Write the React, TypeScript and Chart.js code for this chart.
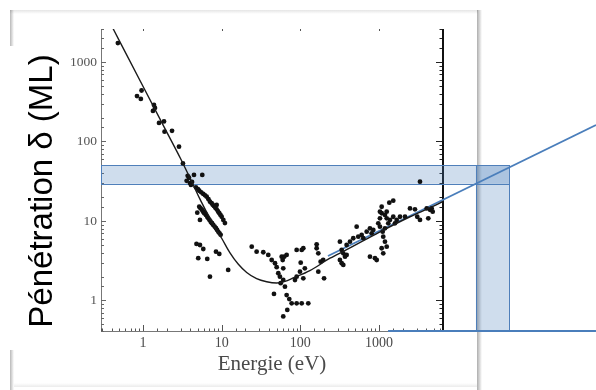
import React, { useEffect, useRef } from 'react';
import { Chart, registerables } from 'chart.js';
Chart.register(...registerables);

// ---- axis ranges and labels ----
const xRange = [0.293, 6490];
const yRange = [0.413, 2600];
const xTickLabels = ['1', '10', '100', '1000'];
const yTickLabels = ['1', '10', '100', '1000'];
const xTitle = 'Energie (eV)';
const yTitle = 'Pénétration δ (ML)';

// ---- measured points (energy eV, penetration ML) ----
const scatterE = [
  0.48, 0.84, 0.96, 0.94, 1.38, 1.34, 1.42, 1.6, 1.85, 1.88, 2.34, 2.87, 3.22, 3.7, 3.59, 4.45, 5.67, 4.2, 3.84, 3.95, 4.07,
  4.71, 5.19, 5.84, 6.45, 7.1, 7.46, 7.98, 8.64, 9.33, 10.0, 10.5, 11.0, 8.64,
  5.0, 5.5, 6.15, 6.8, 7.7, 8.3, 9.0, 9.65,
  5.19, 5.57, 5.84, 6.31, 6.76, 7.25, 7.82, 8.47, 9.06, 9.71, 4.9, 5.3, 6.14, 7.53,
  5.38, 5.7, 6.0, 6.55, 7.0, 7.5, 8.15, 8.75, 9.4,
  4.79, 5.3, 5.84, 5.04, 6.56, 7.1, 8.47, 9.33, 12.1,
  24.1, 27.8, 33.8, 39.1, 43.2, 47.6, 50.0, 57.9, 59.6, 62.4, 66.9, 60.6, 52.4, 55.0, 60.6, 56.2, 63.7, 46.2, 66.9, 72.3,
  77.5, 89.7, 104, 126, 68.2, 60.6, 85.4, 89.7, 98.9, 109, 101, 89.7, 104, 109, 161, 161, 169, 181, 169, 200, 195, 114,
  318, 351, 335, 387, 335, 387, 427, 369, 318, 351, 470, 519, 544, 601, 630, 696, 766, 805, 844, 766, 887, 933,
  977, 1026, 1026, 1079, 1079, 1188, 1250, 1376, 1309, 1188, 1111, 1130, 1188, 1250, 1079, 1130, 1349, 1514, 1250, 1026,
  1514, 1592, 1674, 1844, 2135, 2470, 2858, 3055, 3310, 4030, 4660, 4440, 4220, 4800, 3310,
];
const scatterD = [
  1730, 373, 438, 343, 288, 242, 264, 171, 179, 133, 136, 86, 53, 37, 32, 38, 38, 31, 35, 30, 28.4,
  26.5, 24.0, 21.9, 20.2, 17.5, 16.7, 15.4, 14.0, 12.5, 11.3, 10.3, 9.4, 15.9,
  25.2, 22.9, 21.0, 18.8, 16.0, 14.7, 13.2, 11.9,
  15.1, 14.0, 13.1, 11.9, 10.8, 9.8, 8.9, 8.1, 7.3, 6.7, 12.7, 10.3, 12.6, 9.4,
  14.5, 13.5, 12.5, 11.3, 10.3, 9.35, 8.5, 7.7, 7.0,
  5.14, 4.99, 4.44, 3.4, 3.33, 1.99, 4.11, 3.85, 2.42,
  4.75, 4.11, 4.04, 3.74, 3.23, 2.94, 2.62, 3.56, 3.23, 3.56, 3.74, 2.54, 2.2, 1.99, 1.81, 1.65, 1.49, 1.21, 1.17, 1.04,
  0.92, 0.92, 0.92, 0.92, 0.76, 0.63, 1.81, 1.99, 2.3, 1.9, 2.99, 4.32, 4.32, 4.54, 5.09, 4.54, 3.92, 3.08, 2.3, 1.9, 3.23, 2.54,
  5.49, 3.92, 2.94, 3.74, 4.32, 4.99, 5.49, 3.56, 3.23, 2.8, 6.06, 8.47, 6.35, 6.67, 6.06, 7.33, 8.09, 7.0, 7.71, 3.56, 3.4, 3.23,
  9.35, 8.47, 10.8, 15.1, 12.5, 11.9, 10.8, 10.3, 9.35, 8.09, 7.33, 6.35, 5.49, 4.75, 4.54, 3.92, 17.0, 18.0, 13.1, 13.1,
  11.3, 9.35, 10.3, 11.3, 11.3, 14.4, 14.0, 11.3, 10.3, 14.4, 14.4, 13.8, 10.8, 13.1, 31.2,
];

// ---- universal curve ----
const curveE = [0.4, 0.5, 1.0, 2.0, 3.0, 4.36, 5.3, 6.45, 7.82, 10.0, 12.7, 16.3, 20.8, 27.8, 37.3, 50, 63.7, 81, 132, 238, 387, 1000, 2470, 4660, 6490];
const curveD = [2850, 1860, 495, 132, 61, 28.4, 18.8, 12.9, 9.0, 6.06, 4.0, 2.85, 2.25, 1.88, 1.72, 1.66, 1.74, 1.92, 2.37, 3.4, 4.35, 7.2, 11.3, 15.0, 17.6];

// ---- annotations (blue) ----
const blueLineE = [224, 570000];
const blueLineD = [3.63, 161];
const baseLineE = [1300, 570000];
const baseLineD = [0.413, 0.413];
const hBandE = [0.293, 44700];
const hBandD = [29.3, 50.6];
const vBandE = [17000, 44700];
const vBandD = [0.413, 50.6];

const SERIF = "'Liberation Serif', 'Times New Roman', serif";
const SANS = "'Liberation Sans', Arial, sans-serif";

const framePlugin = {
  id: 'frame',
  beforeDraw(chart: any) {
    const ctx = chart.ctx;
    ctx.save();
    ctx.fillStyle = '#ffffff';
    ctx.fillRect(0, 0, chart.width, chart.height);
    // top edge
    let g = ctx.createLinearGradient(0, 10, 0, 14);
    g.addColorStop(0, 'rgba(0,0,0,0.10)');
    g.addColorStop(1, 'rgba(0,0,0,0)');
    ctx.fillStyle = g;
    ctx.fillRect(10, 10, 468, 4);
    // left edge (interrupted by the title box)
    g = ctx.createLinearGradient(10, 0, 14, 0);
    g.addColorStop(0, 'rgba(0,0,0,0.28)');
    g.addColorStop(1, 'rgba(0,0,0,0)');
    ctx.fillStyle = g;
    ctx.fillRect(10, 10, 4, 36);
    ctx.fillRect(10, 350, 4, 40);
    // right edge
    g = ctx.createLinearGradient(477, 0, 482, 0);
    g.addColorStop(0, 'rgba(0,0,0,0.32)');
    g.addColorStop(1, 'rgba(0,0,0,0)');
    ctx.fillStyle = g;
    ctx.fillRect(477, 10, 5, 380);
    // bottom edge
    g = ctx.createLinearGradient(0, 383, 0, 387);
    g.addColorStop(0, 'rgba(0,0,0,0)');
    g.addColorStop(1, 'rgba(0,0,0,0.08)');
    ctx.fillStyle = g;
    ctx.fillRect(14, 383, 463, 4);
    ctx.restore();
  },
  beforeDatasetsDraw(chart: any) {
    const ctx = chart.ctx;
    const { left, right, top, bottom } = chart.chartArea;
    const xs = chart.scales.x;
    const ys = chart.scales.y;
    const isMajor = (v: number) => Math.abs(Math.log10(v) - Math.round(Math.log10(v))) < 1e-6;
    ctx.save();
    // left axis
    ctx.strokeStyle = '#777';
    ctx.lineWidth = 1;
    ctx.beginPath();
    ctx.moveTo(left + 0.5, top);
    ctx.lineTo(left + 0.5, bottom);
    ctx.stroke();
    // bottom axis
    ctx.beginPath();
    ctx.moveTo(left, bottom + 0.5);
    ctx.lineTo(right, bottom + 0.5);
    ctx.stroke();
    // y ticks left & right
    ys.ticks.forEach((t: any) => {
      const p = Math.round(ys.getPixelForValue(t.value)) + 0.5;
      const maj = isMajor(t.value);
      ctx.strokeStyle = '#666';
      ctx.lineWidth = 1;
      ctx.beginPath();
      ctx.moveTo(left, p);
      ctx.lineTo(left + (maj ? 5 : 3), p);
      ctx.stroke();
      ctx.strokeStyle = '#222';
      ctx.beginPath();
      ctx.moveTo(right, p);
      ctx.lineTo(right - (maj ? 7 : 3.5), p);
      ctx.stroke();
    });
    // x ticks bottom & top
    xs.ticks.forEach((t: any) => {
      const p = Math.round(xs.getPixelForValue(t.value)) + 0.5;
      const maj = isMajor(t.value);
      ctx.strokeStyle = '#555';
      ctx.lineWidth = 1;
      ctx.beginPath();
      ctx.moveTo(p, bottom);
      ctx.lineTo(p, bottom - (maj ? 6 : 2.5));
      ctx.stroke();
      if (maj) {
        ctx.fillStyle = '#555';
        ctx.fillRect(p - 0.5, top, 1, 2);
      }
    });
    // right axis (thick)
    ctx.strokeStyle = '#111';
    ctx.lineWidth = 2;
    ctx.beginPath();
    ctx.moveTo(right, top);
    ctx.lineTo(right, bottom + 1);
    ctx.stroke();

    // bands
    const drawBand = (ex: number[], dy: number[]) => {
      const x0 = xs.getPixelForValue(ex[0]);
      const x1 = xs.getPixelForValue(ex[1]);
      const y0 = ys.getPixelForValue(dy[1]);
      const y1 = ys.getPixelForValue(dy[0]);
      ctx.fillStyle = 'rgba(79,129,189,0.27)';
      ctx.fillRect(x0, y0, x1 - x0, y1 - y0);
      ctx.strokeStyle = '#4f7fba';
      ctx.lineWidth = 1;
      ctx.strokeRect(Math.round(x0) + 0.5, Math.round(y0) + 0.5, Math.round(x1 - x0), Math.round(y1 - y0));
    };
    drawBand(hBandE, hBandD);
    drawBand(vBandE, vBandD);
    ctx.restore();
  },
  afterDraw(chart: any) {
    const ctx = chart.ctx;
    ctx.save();
    ctx.translate(51.5, 191);
    ctx.rotate(-Math.PI / 2);
    ctx.font = `33px ${SANS}`;
    ctx.fillStyle = '#000';
    ctx.textAlign = 'center';
    ctx.textBaseline = 'alphabetic';
    ctx.fillText(yTitle, 0, 0);
    ctx.restore();
  },
};

export default function App() {
  const ref = useRef<HTMLCanvasElement | null>(null);
  useEffect(() => {
    if (!ref.current) return;
    const pts = scatterE.map((x, i) => ({ x, y: scatterD[i] }));
    const curve = curveE.map((x, i) => ({ x, y: curveD[i] }));
    const blue = blueLineE.map((x, i) => ({ x, y: blueLineD[i] }));
    const base = baseLineE.map((x, i) => ({ x, y: baseLineD[i] }));
    const chart = new Chart(ref.current, {
      type: 'scatter',
      data: {
        datasets: [
          {
            data: curve,
            showLine: true,
            borderColor: '#1a1a1a',
            borderWidth: 1.4,
            pointRadius: 0,
            cubicInterpolationMode: 'monotone',
          } as any,
          {
            data: pts,
            pointRadius: 2.4,
            pointBackgroundColor: '#111',
            pointBorderWidth: 0,
            borderColor: '#111',
          },
          {
            data: blue,
            showLine: true,
            borderColor: '#4a7ebb',
            borderWidth: 1.8,
            pointRadius: 0,
            clip: false,
          } as any,
          {
            data: base,
            showLine: true,
            borderColor: '#4a7ebb',
            borderWidth: 1.8,
            pointRadius: 0,
            clip: false,
          } as any,
        ],
      },
      options: {
        responsive: false,
        animation: false,
        devicePixelRatio: 1,
        events: [],
        layout: { padding: { left: 0, right: 153, top: 29, bottom: 0 } },
        plugins: { legend: { display: false }, tooltip: { enabled: false } },
        scales: {
          x: {
            type: 'logarithmic',
            min: xRange[0],
            max: xRange[1],
            grid: { display: false, drawTicks: false, tickLength: 0 },
            border: { display: false },
            ticks: {
              autoSkip: false,
              maxRotation: 0,
              padding: 4,
              color: '#4a4a4a',
              font: { family: SERIF, size: 14 },
              callback: (v: any) => (xTickLabels.includes(String(v)) ? String(v) : ''),
            },
            title: {
              display: true,
              text: xTitle,
              color: '#4a4a4a',
              font: { family: SERIF, size: 21 },
              padding: { top: 0, bottom: 13 },
            },
            afterFit: (s: any) => {
              s.height = 59;
            },
          },
          y: {
            type: 'logarithmic',
            min: yRange[0],
            max: yRange[1],
            grid: { display: false, drawTicks: false, tickLength: 0 },
            border: { display: false },
            ticks: {
              autoSkip: false,
              padding: 4,
              color: '#555',
              font: { family: SERIF, size: 13.5 },
              callback: (v: any) => (yTickLabels.includes(String(v)) ? String(v) : ''),
            },
            afterFit: (s: any) => {
              s.width = 101;
            },
          },
        },
      },
      plugins: [framePlugin],
    } as any);
    return () => chart.destroy();
  }, []);
  return (
    <div style={{ position: 'fixed', left: 0, top: 0, width: 596, height: 390, background: '#fff' }}>
      <canvas ref={ref} width={596} height={390} style={{ display: 'block' }} />
    </div>
  );
}
